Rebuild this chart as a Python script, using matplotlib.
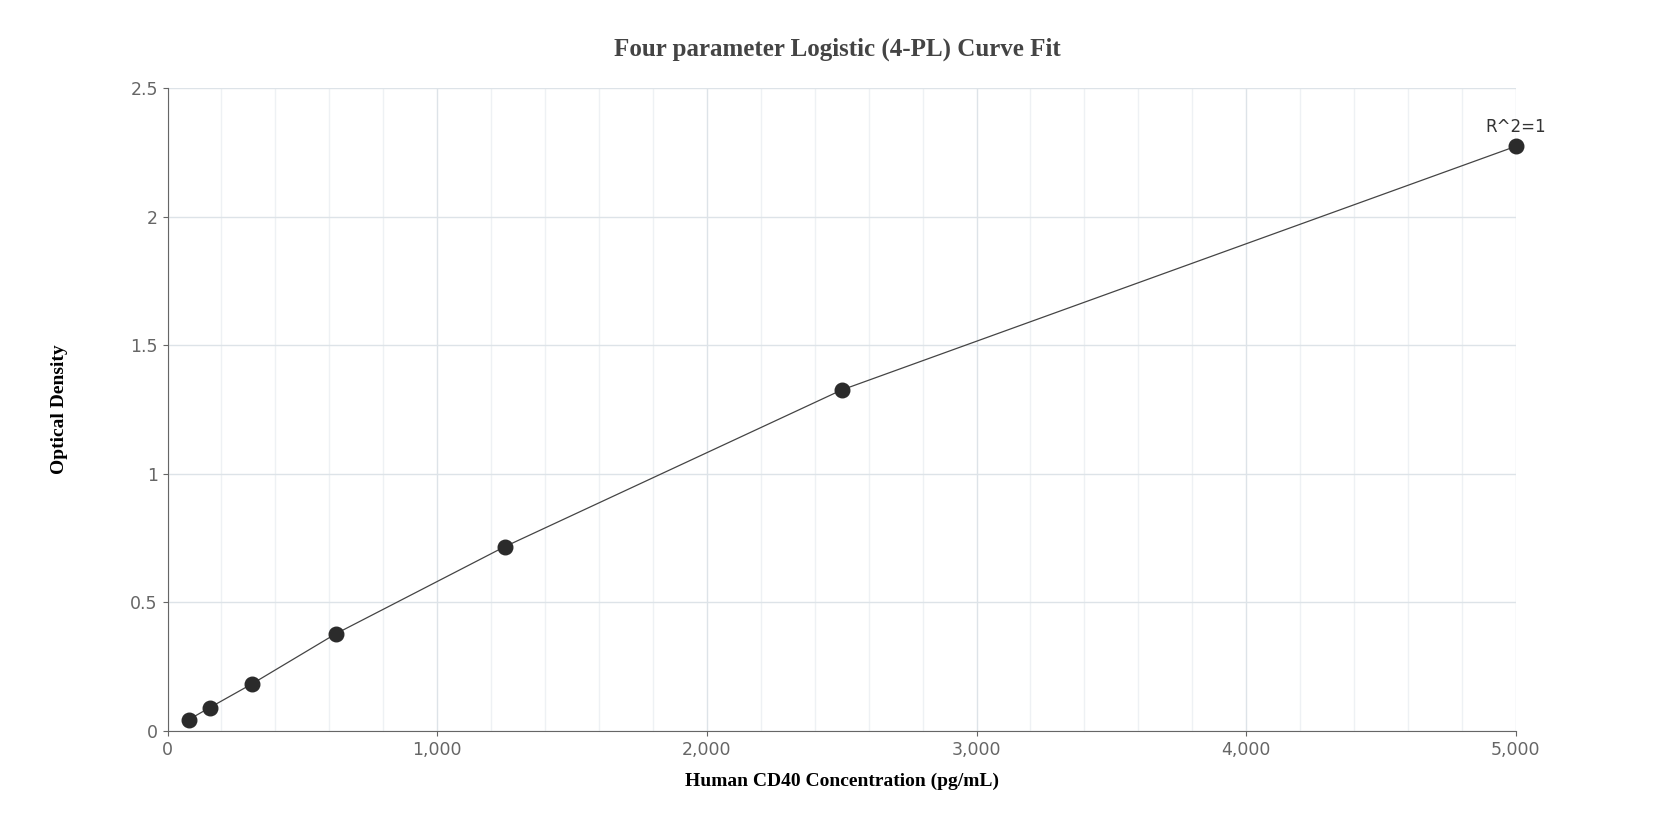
import matplotlib.pyplot as plt
from matplotlib.ticker import FuncFormatter, MultipleLocator

conc = [78.125, 156.25, 312.5, 625, 1250, 2500, 5000]
od = [0.043, 0.09, 0.182, 0.378, 0.716, 1.326, 2.274]

fig = plt.figure(figsize=(16.75, 8.4), dpi=100)
ax = fig.add_axes([0.10, 0.13, 0.805, 0.765])

ax.plot(conc, od, color='#444444', lw=0.9, zorder=2)
ax.scatter(conc, od, s=110, color='#2b2b2b', zorder=3, clip_on=False)
ax.annotate('R^2=1', (conc[-1], od[-1]), xytext=(0, 10), textcoords='offset points',
            ha='center', fontsize=12, color='#333333', fontfamily='DejaVu Sans')

ax.set_xlim(0, 5000)
ax.set_ylim(0, 2.5)
ax.xaxis.set_major_locator(MultipleLocator(1000))
ax.xaxis.set_minor_locator(MultipleLocator(200))
ax.yaxis.set_major_locator(MultipleLocator(0.5))
ax.xaxis.set_major_formatter(FuncFormatter(lambda v, p: f'{int(v):,}'))
ax.yaxis.set_major_formatter(FuncFormatter(lambda v, p: f'{v:g}'))
ax.grid(which='major', color='#dde3e8', lw=1)
ax.grid(which='minor', axis='x', color='#eef1f4', lw=1)
for s in ['top', 'right']:
    ax.spines[s].set_visible(False)
for s in ['left', 'bottom']:
    ax.spines[s].set_color('#666666')
ax.tick_params(which='minor', length=0)
ax.tick_params(colors='#666666', labelsize=12.5)

ax.set_xlabel('Human CD40 Concentration (pg/mL)', fontfamily='Liberation Serif',
              fontweight='bold', fontsize=14, labelpad=10)
ax.set_ylabel('Optical Density', fontfamily='Liberation Serif',
              fontweight='bold', fontsize=14, labelpad=45)
fig.suptitle('Four parameter Logistic (4-PL) Curve Fit', fontfamily='Liberation Serif',
             fontweight='bold', fontsize=18, color='#444444', y=0.955)

fig.savefig('out.png', dpi=100)
